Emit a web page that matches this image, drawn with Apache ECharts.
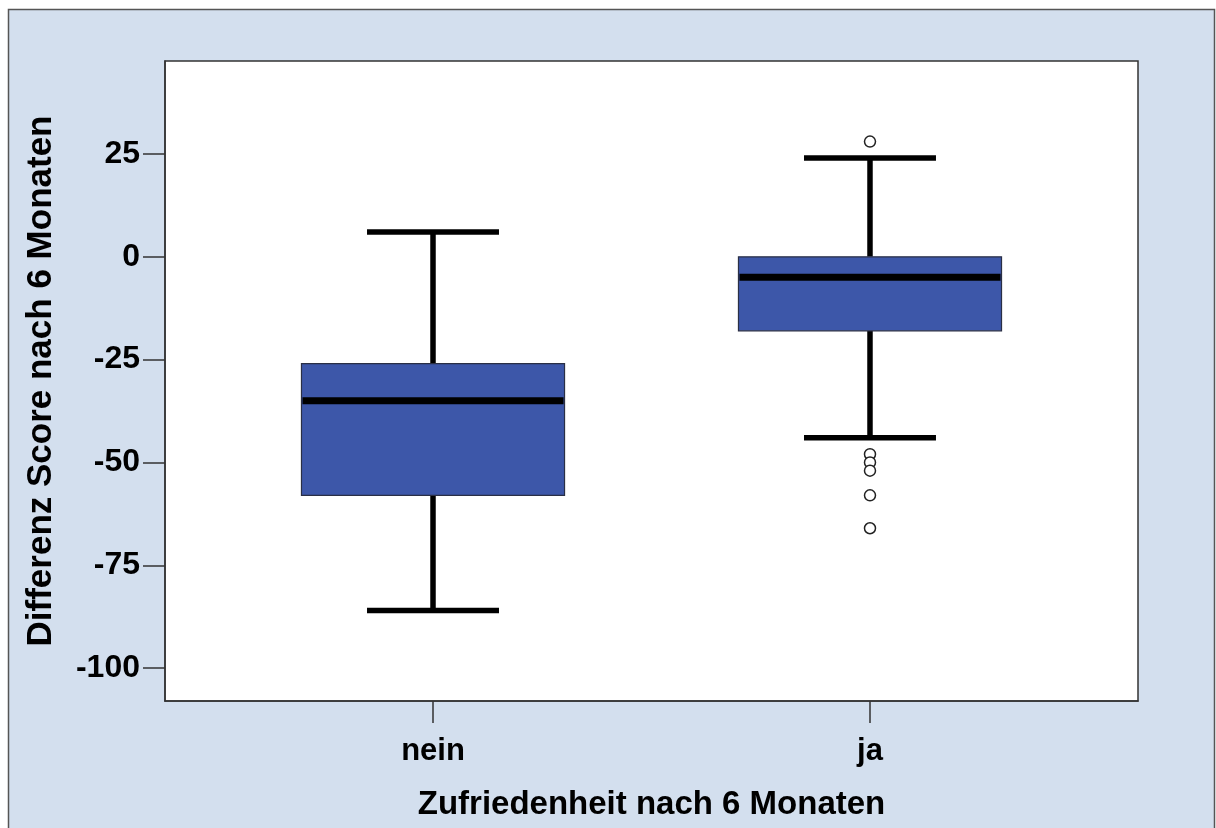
<!DOCTYPE html>
<html>
<head>
<meta charset="utf-8">
<script src="https://cdn.jsdelivr.net/npm/echarts@6/dist/echarts.min.js"></script>
<style>
html,body{margin:0;padding:0;background:#ffffff;}
#chart{width:1216px;height:828px;}
</style>
</head>
<body>
<div id="chart"></div>
<script>
// ---- data ----
var categories = ['nein', 'ja'];
var whiskerLow  = [-86, -44];
var q1          = [-58, -18];
var median      = [-35, -5];
var q3          = [-26, 0];
var whiskerHigh = [6, 24];
var outliersJa  = [28, -48, -50, -52, -58, -66];
var yTicks      = [-100, -75, -50, -25, 0, 25];

// ---- build ----
var boxData = categories.map(function (c, i) {
  return [i, whiskerLow[i], q1[i], median[i], q3[i], whiskerHigh[i]];
});
var outlierData = outliersJa.map(function (v) { return [categories.indexOf('ja'), v]; });

var FONT = "'Liberation Sans', Arial, sans-serif";
var BOX_HALF = 0.301;   // in x-axis units
var CAP_HALF = 0.151;

var chart = echarts.init(document.getElementById('chart'));
chart.setOption({
  backgroundColor: '#ffffff',
  animation: false,
  graphic: [{
    type: 'rect', z: -10, silent: true,
    shape: { x: 8.5, y: 9.5, width: 1206, height: 830 },
    style: { fill: '#d3dfee', stroke: '#555555', lineWidth: 1.5 }
  }],
  grid: {
    left: 165, top: 61, width: 973, height: 640,
    show: true, backgroundColor: '#ffffff', borderColor: '#333333', borderWidth: 1.5
  },
  xAxis: {
    type: 'value',
    min: -0.6133, max: 1.6133,
    name: 'Zufriedenheit nach 6 Monaten',
    nameLocation: 'middle',
    nameGap: 87,
    nameTextStyle: { fontFamily: FONT, fontWeight: 'bold', fontSize: 33, color: '#000' },
    axisLine: { show: true, onZero: false, lineStyle: { color: '#333', width: 1.5 } },
    axisTick: { show: true, length: 22, lineStyle: { color: '#333', width: 1.5 }, customValues: [0, 1] },
    axisLabel: {
      customValues: [0, 1],
      formatter: function (v) { return categories[Math.round(v)]; },
      margin: 35,
      fontFamily: FONT, fontWeight: 'bold', fontSize: 31, color: '#000'
    },
    splitLine: { show: false }
  },
  yAxis: {
    type: 'value',
    min: -108, max: 47.6,
    name: 'Differenz Score nach 6 Monaten',
    nameLocation: 'middle',
    nameGap: 106,
    nameTextStyle: { fontFamily: FONT, fontWeight: 'bold', fontSize: 35, color: '#000' },
    axisLine: { show: true, onZero: false, lineStyle: { color: '#333', width: 1.5 } },
    axisTick: { show: true, length: 22, lineStyle: { color: '#333', width: 1.5 }, customValues: yTicks },
    axisLabel: {
      customValues: yTicks,
      margin: 25,
      fontFamily: FONT, fontWeight: 'bold', fontSize: 32, color: '#000'
    },
    splitLine: { show: false }
  },
  series: [{
    type: 'custom',
    data: boxData,
    encode: { x: 0, y: [1, 2, 3, 4, 5] },
    renderItem: function (params, api) {
      var x = api.value(0);
      var lo = api.coord([x, api.value(1)]);
      var b1 = api.coord([x, api.value(2)]);
      var md = api.coord([x, api.value(3)]);
      var b3 = api.coord([x, api.value(4)]);
      var hi = api.coord([x, api.value(5)]);
      var bl = api.coord([x - BOX_HALF, 0])[0];
      var br = api.coord([x + BOX_HALF, 0])[0];
      var cl = api.coord([x - CAP_HALF, 0])[0];
      var cr = api.coord([x + CAP_HALF, 0])[0];
      var cx = lo[0];
      var blk = { stroke: '#000', lineWidth: 5.5, lineCap: 'butt' };
      return {
        type: 'group',
        children: [
          { type: 'line', shape: { x1: cx, y1: hi[1], x2: cx, y2: b3[1] }, style: blk },
          { type: 'line', shape: { x1: cx, y1: b1[1], x2: cx, y2: lo[1] }, style: blk },
          { type: 'line', shape: { x1: cl, y1: hi[1], x2: cr, y2: hi[1] }, style: blk },
          { type: 'line', shape: { x1: cl, y1: lo[1], x2: cr, y2: lo[1] }, style: blk },
          { type: 'rect', shape: { x: bl, y: b3[1], width: br - bl, height: b1[1] - b3[1] },
            style: { fill: '#3d57a9', stroke: '#2a2f45', lineWidth: 1.2 } },
          { type: 'line', shape: { x1: bl + 1, y1: md[1], x2: br - 1, y2: md[1] },
            style: { stroke: '#000', lineWidth: 7 } }
        ]
      };
    }
  }, {
    type: 'scatter',
    data: outlierData,
    symbol: 'circle',
    symbolSize: 11,
    itemStyle: { color: '#ffffff', borderColor: '#222', borderWidth: 1.5, opacity: 1 },
    z: 5
  }]
});
</script>
</body>
</html>
